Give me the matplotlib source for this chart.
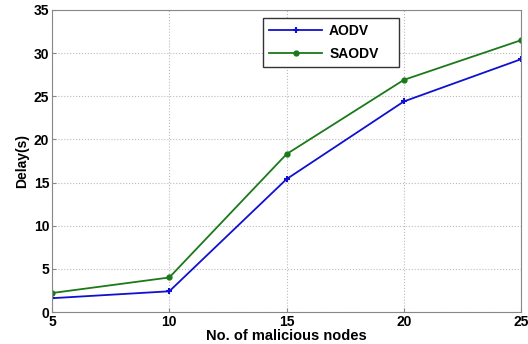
import matplotlib
matplotlib.use("Agg")
import matplotlib.pyplot as plt

nodes = [5, 10, 15, 20, 25]
aodv = [1.6, 2.4, 15.4, 24.4, 29.3]
saodv = [2.2, 4.0, 18.3, 26.9, 31.5]
xticks = [5, 10, 15, 20, 25]
yticks = [0, 5, 10, 15, 20, 25, 30, 35]

plt.rcParams['font.family'] = ['Liberation Sans', 'DejaVu Sans']
fig = plt.figure(figsize=(5.28, 3.44), dpi=100)
ax = fig.add_axes([0.0985, 0.093, 0.8885, 0.878])

ax.plot(nodes, aodv, color='#1010d0', marker='+', markersize=5, markeredgewidth=1.5, linewidth=1.3, label='AODV')
ax.plot(nodes, saodv, color='#1a7a1a', marker='o', markersize=3.5, linewidth=1.3, label='SAODV')

ax.set_xlim(5, 25)
ax.set_ylim(0, 35)
ax.set_xticks(xticks)
ax.set_yticks(yticks)
for lbl in ax.get_xticklabels() + ax.get_yticklabels():
    lbl.set_fontweight('bold')
    lbl.set_fontsize(10)
ax.tick_params(direction='in', length=3, color='#888888')
ax.tick_params(axis='x', pad=2.5)
ax.tick_params(axis='y', pad=2)
ax.grid(True, linestyle=':', color='#bbbbbb', linewidth=0.8)
for s in ax.spines.values():
    s.set_color('#888888')
    s.set_linewidth(0.8)

ax.set_xlabel('No. of malicious nodes', fontsize=10.5, fontweight='bold', labelpad=-0.5)
ax.set_ylabel('Delay(s)', fontsize=10, fontweight='bold', labelpad=3)

leg = ax.legend(loc='upper left', bbox_to_anchor=(0.45, 0.818, 0.29, 0.1555), mode='expand',
                prop={'weight': 'bold', 'size': 10}, fancybox=False, edgecolor='#333333',
                framealpha=1, handlelength=3.8, borderpad=0.45, labelspacing=0.6,
                handletextpad=0.5, borderaxespad=0)
leg.get_frame().set_linewidth(1.0)

fig.savefig('out.png', dpi=100)
